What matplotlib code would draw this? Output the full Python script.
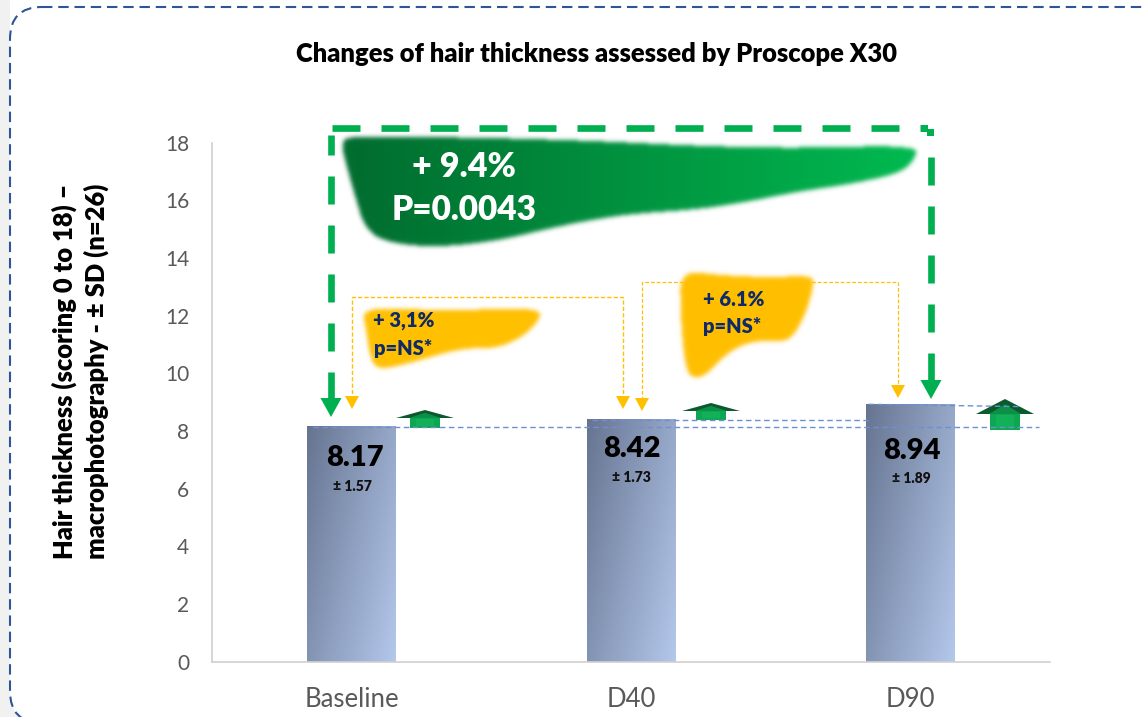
"""Changes of hair thickness assessed by Proscope X30 - bar chart with overlays."""
import matplotlib
matplotlib.use("Agg")
import matplotlib.pyplot as plt
import numpy as np
from matplotlib.colors import to_rgb
from matplotlib.path import Path
from matplotlib.patches import FancyBboxPatch, Polygon, Rectangle

days = ["Baseline", "D40", "D90"]
means = [8.17, 8.42, 8.94]
sds = [1.57, 1.73, 1.89]
y_ticks = [0, 2, 4, 6, 8, 10, 12, 14, 16, 18]

W, H = 1142, 717
GREEN = "#00b050"
AMBER = "#ffc000"
NAVY = "#0f2a66"
BOLD = "heavy"

plt.rcParams["font.family"] = ["Lato", "DejaVu Sans"]

fig = plt.figure(figsize=(W / 100, H / 100), dpi=100, facecolor="white")

# pixel-space layer for the hand-drawn slide shapes
bg = fig.add_axes([0, 0, 1, 1], zorder=0)
bg.set_xlim(0, W)
bg.set_ylim(H, 0)
bg.axis("off")
bg.add_patch(Rectangle((0, 0), 10, H, fc="#f1f1f1", ec="none"))
bg.add_patch(Rectangle((0, 685), 40, 32, fc="#f1f1f1", ec="none"))
bg.add_patch(FancyBboxPatch((10, 7), W + 200, 716,
                            boxstyle="round,pad=0,rounding_size=32",
                            fc="white", ec="#2f5597", lw=1.5, ls=(0, (5, 2.8))))

top = fig.add_axes([0, 0, 1, 1], zorder=1)
top.patch.set_alpha(0)
top.set_xlim(0, W)
top.set_ylim(H, 0)
top.axis("off")

ax = fig.add_axes([212 / W, 1 - 661.5 / H, 838 / W, 519 / H], zorder=2)
ax.patch.set_alpha(0)
ax.set_xlim(-0.5, 2.5)
ax.set_ylim(0, 18)
ax.set_xticks(range(len(days)), days)
ax.set_yticks(y_ticks)
ax.tick_params(axis="y", length=0, labelsize=15, labelcolor="#595959", pad=16.5)
ax.tick_params(axis="x", length=0, labelsize=18.5, labelcolor="#595959", pad=18.5)
for s in ("top", "right"):
    ax.spines[s].set_visible(False)
for s in ("left", "bottom"):
    ax.spines[s].set_color("#d0d0d0")
    ax.spines[s].set_linewidth(1.2)

bars = ax.bar(range(len(days)), means, width=0.317, color="none", zorder=2)
u, v = np.meshgrid(np.linspace(0, 1, 100), np.linspace(0, 1, 100))
shade = 0.62 * u + 0.38 * v
dark, light = np.array([0x66, 0x74, 0x90]) / 255, np.array([0xb4, 0xc8, 0xec]) / 255
grad = dark + (light - dark) * shade[..., None]
for b in bars:
    im = ax.imshow(grad, extent=(b.get_x(), b.get_x() + b.get_width(), 0, b.get_height()),
                   aspect="auto", origin="upper", zorder=2)
    im.set_clip_path(b)
ax.set_xlim(-0.5, 2.5)
ax.set_ylim(0, 18)

# labels were placed by hand in the slide, so each has its own drop below the bar top
value_drop = [32, 30, 47]
sd_drop = [61, 59, 75]
value_shift = [3, 1, 2]
for i, (m, sd) in enumerate(zip(means, sds)):
    ax.annotate(f"{m:.2f}", (i, m), xytext=(value_shift[i] * 0.72, -value_drop[i] * 0.72),
                textcoords="offset points", ha="center", va="center",
                fontsize=21, fontweight=BOLD, color="black", zorder=4)
    ax.annotate(f"± {sd:.2f}", (i, m), xytext=(value_shift[i] * 0.3, -sd_drop[i] * 0.72),
                textcoords="offset points", ha="center", va="center",
                fontsize=10, fontweight=BOLD, color="#111111", zorder=4)

# reference levels from each bar top
ref_kw = dict(color="#6f8fd4", lw=1, ls=(0, (4, 2.5)), zorder=3)
ax.plot([-0.14, 2.46], [means[0] - 0.05] * 2, **ref_kw)
ax.plot([0.86, 1.85], [means[1] - 0.04] * 2, **ref_kw)
ax.plot([1.85, 2.4], [means[2] - 0.02, means[2] - 0.1], **ref_kw)


def chaikin(pts, rounds=3):
    """Corner cutting so the painted shapes have no visible vertices."""
    pts = np.array(pts, float)
    for _ in range(rounds):
        nxt = np.roll(pts, -1, axis=0)
        pts = np.column_stack([0.75 * pts + 0.25 * nxt, 0.25 * pts + 0.75 * nxt]).reshape(-1, 2)
    return pts


def blob(pts, c0, c1, sigma=2.2):
    """Soft-edged painted shape with a left-to-right colour ramp."""
    pts = chaikin(pts)
    x0, y0 = pts.min(axis=0) - 10
    x1, y1 = pts.max(axis=0) + 10
    gx, gy = np.meshgrid(np.arange(x0, x1), np.arange(y0, y1))
    mask = Path(pts).contains_points(np.c_[gx.ravel(), gy.ravel()]).reshape(gx.shape).astype(float)
    k = np.exp(-0.5 * (np.arange(-8, 9) / sigma) ** 2)
    k /= k.sum()
    mask = np.apply_along_axis(lambda r: np.convolve(r, k, mode="same"), 0, mask)
    mask = np.apply_along_axis(lambda r: np.convolve(r, k, mode="same"), 1, mask)
    t = ((gx - x0) / (x1 - x0))[..., None]
    rgb = np.array(to_rgb(c0)) * (1 - t) + np.array(to_rgb(c1)) * t
    top.imshow(np.dstack([rgb, mask]), extent=(x0, x1, y1, y0), aspect="auto", zorder=2)


blob([(340, 140), (356, 136), (430, 137), (500, 138), (600, 141), (700, 146), (800, 148), (918, 145),
      (914, 160), (900, 173), (850, 184), (800, 191), (750, 201), (700, 209), (640, 213), (600, 218),
      (550, 228), (500, 240), (450, 246), (415, 246), (380, 240), (364, 226), (356, 200), (346, 165)],
     "#006a2e", "#00bb50")
blob([(361, 307), (430, 310), (500, 309), (541, 309), (538, 322), (520, 338), (497, 348), (460, 348),
      (413, 362), (378, 370), (370, 358), (366, 330)], AMBER, AMBER)
blob([(680, 270), (720, 275), (770, 277), (812, 275), (813, 285), (807, 308), (797, 330), (785, 342),
      (753, 340), (727, 352), (707, 374), (691, 379), (684, 362), (680, 312)], AMBER, AMBER)
top.set_xlim(0, W)
top.set_ylim(H, 0)


def dashed(path, color, lw, dashes):
    xs, ys = zip(*path)
    top.plot(xs, ys, color=color, lw=lw, ls=(0, dashes), solid_capstyle="butt",
             dash_capstyle="butt", dash_joinstyle="miter", zorder=3)


def head(x, y, half, length, color):
    top.add_patch(Polygon([(x - half, y - length), (x + half, y - length), (x, y)],
                          fc=color, ec="none", zorder=4))


GREEN_DASH = (4.2, 3.15)
dashed([(331, 400), (331, 135)], GREEN, 4.8, GREEN_DASH)
dashed([(332, 128), (927, 128)], GREEN, 4.8, GREEN_DASH)
dashed([(931, 157), (931, 381)], GREEN, 4.8, GREEN_DASH)
top.add_patch(Rectangle((921, 125), 7, 7, fc=GREEN, ec="none", zorder=3))
top.add_patch(Rectangle((927, 129), 7, 7, fc=GREEN, ec="none", zorder=3))
head(331, 417, 10.5, 19, GREEN)
head(931, 399, 10.5, 19, GREEN)

dashed([(352, 400), (352, 297), (623, 297), (623, 400)], AMBER, 1.0, (3, 1.6))
dashed([(642, 400), (642, 282), (898, 282), (898, 388)], AMBER, 0.9, (3, 1.6))
head(352, 409, 7, 13, AMBER)
head(623, 409, 7, 13, AMBER)
head(642, 411, 7, 13, AMBER)
head(898, 398, 7, 13, AMBER)


def up_arrow(cx, y_tip, y_neck, y_base, half_head, half_stem):
    top.add_patch(Polygon([(cx - half_head, y_neck), (cx, y_tip), (cx + half_head, y_neck)],
                          fc="#0b5a2e", ec="none", zorder=4))
    mid = y_tip + (y_neck - y_tip) * 0.35
    top.add_patch(Polygon([(cx - half_head * 0.55, y_neck), (cx, mid), (cx + half_head * 0.55, y_neck)],
                          fc="#0c8f47", ec="none", zorder=4))
    top.add_patch(Rectangle((cx - half_stem, y_neck), 2 * half_stem, y_base - y_neck,
                            fc="#0ba851", ec="none", zorder=4))
    top.add_patch(Rectangle((cx - half_stem * 0.6, y_neck + 1), 1.2 * half_stem, y_base - y_neck - 3,
                            fc="#12b058", ec="none", zorder=4))


up_arrow(425, 410, 418, 428, 29, 15)
up_arrow(711, 403, 411, 420, 29, 15)
up_arrow(1005, 399, 414, 430, 29, 15)

top.text(596, 54.5, "Changes of hair thickness assessed by Proscope X30", ha="center", va="center",
         fontsize=18.4, fontweight=BOLD, color="black", zorder=6)
top.text(80, 371, "Hair thickness (scoring 0 to 18) –\nmacrophotography - ± SD (n=26)", rotation=90,
         ha="center", va="center", fontsize=18.4, fontweight=BOLD, color="black", linespacing=1.32, zorder=6)
top.text(464, 167, "+ 9.4%", ha="center", va="center", fontsize=24.5, fontweight=BOLD, color="white", zorder=6)
top.text(464, 210, "P=0.0043", ha="center", va="center", fontsize=24, fontweight=BOLD, color="white", zorder=6)
top.text(373, 320, "+ 3,1%", ha="left", va="center", fontsize=14.5, fontweight=BOLD, color=NAVY, zorder=6)
top.text(374, 348, "p=NS*", ha="left", va="center", fontsize=14.5, fontweight=BOLD, color=NAVY, zorder=6)
top.text(703, 299, "+ 6.1%", ha="left", va="center", fontsize=14.5, fontweight=BOLD, color=NAVY, zorder=6)
top.text(703, 327, "p=NS*", ha="left", va="center", fontsize=14.5, fontweight=BOLD, color=NAVY, zorder=6)

fig.savefig("out.png", dpi=100, facecolor=fig.get_facecolor())
